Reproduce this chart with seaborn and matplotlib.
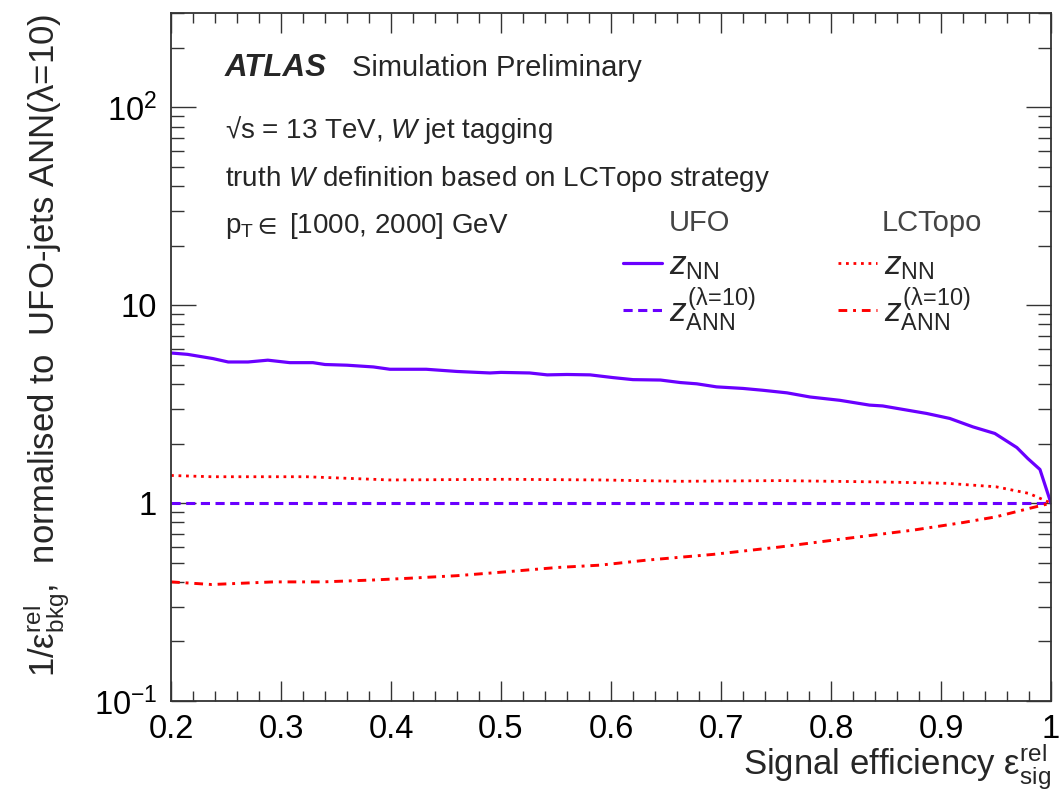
import numpy as np
import pandas as pd
import matplotlib
matplotlib.use("Agg")
import matplotlib.pyplot as plt
import seaborn as sns
from matplotlib.ticker import FixedLocator, MultipleLocator, LogLocator, NullFormatter

# ---------------- data ----------------
ufo_nn_x = [0.20, 0.215, 0.238, 0.252, 0.27, 0.288, 0.308, 0.329, 0.34, 0.36, 0.384, 0.399,
            0.432, 0.46, 0.49, 0.50, 0.526, 0.542, 0.56, 0.581, 0.602, 0.62, 0.645, 0.663,
            0.678, 0.696, 0.72, 0.738, 0.76, 0.781, 0.808, 0.835, 0.847, 0.865, 0.887, 0.908,
            0.929, 0.949, 0.969, 0.979, 0.99, 1.0]
ufo_nn_y = [5.74, 5.65, 5.38, 5.17, 5.17, 5.28, 5.13, 5.13, 5.02, 4.98, 4.88, 4.75,
            4.75, 4.63, 4.55, 4.58, 4.55, 4.45, 4.47, 4.45, 4.31, 4.21, 4.19, 4.07,
            4.01, 3.87, 3.80, 3.72, 3.61, 3.44, 3.31, 3.13, 3.10, 2.98, 2.84, 2.68,
            2.43, 2.25, 1.91, 1.68, 1.48, 1.0]

ufo_ann_x = [0.20, 1.0]
ufo_ann_y = [1.0, 1.0]

lc_nn_x = [0.20, 0.237, 0.323, 0.399, 0.505, 0.59, 0.663, 0.754, 0.845, 0.905, 0.95, 0.98, 1.0]
lc_nn_y = [1.38, 1.36, 1.36, 1.31, 1.32, 1.31, 1.29, 1.30, 1.28, 1.26, 1.21, 1.12, 1.0]

lc_ann_x = [0.20, 0.237, 0.293, 0.338, 0.384, 0.415, 0.46, 0.505, 0.551, 0.59, 0.632, 0.693,
            0.754, 0.814, 0.875, 0.92, 0.95, 0.98, 1.0]
lc_ann_y = [0.40, 0.388, 0.40, 0.40, 0.409, 0.417, 0.43, 0.45, 0.473, 0.486, 0.515, 0.551,
            0.601, 0.663, 0.731, 0.798, 0.853, 0.94, 1.0]

x_ticks = [0.2, 0.3, 0.4, 0.5, 0.6, 0.7, 0.8, 0.9, 1.0]
x_ticklabels = ["0.2", "0.3", "0.4", "0.5", "0.6", "0.7", "0.8", "0.9", "1"]
y_ticks = [0.1, 1, 10, 100]
y_ticklabels = [r"$10^{-1}$", "1", "10", r"$10^{2}$"]

label_nn = r"$z_{\mathrm{NN}}$"
label_ann = r"$z_{\mathrm{ANN}}^{\mathrm{(λ\!=\!10)}}$"
header_ufo = "UFO"
header_lc = "LCTopo"

# ---------------- style ----------------
sns.set_theme(style="ticks")
plt.rcParams["font.family"] = ["Liberation Sans", "DejaVu Sans"]
plt.rcParams["mathtext.fontset"] = "custom"
plt.rcParams["mathtext.rm"] = "Liberation Sans"
plt.rcParams["mathtext.it"] = "Liberation Sans:italic"
plt.rcParams["mathtext.bf"] = "Liberation Sans:bold"
plt.rcParams["mathtext.fallback"] = "stixsans"
plt.rcParams["axes.linewidth"] = 1.3
plt.rcParams["axes.edgecolor"] = "#333333"

BLUE = "#6a00ff"
RED = "#ff0000"

fig = plt.figure(figsize=(10.59, 7.94), dpi=100)
ax = fig.add_axes([0.1615, 0.1171, 0.8309, 0.8665])

def df(x, y):
    return pd.DataFrame({"x": x, "y": y})

sns.lineplot(data=df(ufo_nn_x, ufo_nn_y), x="x", y="y", ax=ax, color=BLUE, lw=2.3,
             label=label_nn, estimator=None, sort=False)
sns.lineplot(data=df(ufo_ann_x, ufo_ann_y), x="x", y="y", ax=ax, color=BLUE, lw=2.2,
             label=label_ann, estimator=None, sort=False)
sns.lineplot(data=df(lc_nn_x, lc_nn_y), x="x", y="y", ax=ax, color=RED, lw=2.0,
             label=label_nn + " ", estimator=None, sort=False)
sns.lineplot(data=df(lc_ann_x, lc_ann_y), x="x", y="y", ax=ax, color=RED, lw=2.1,
             label=label_ann + " ", estimator=None, sort=False)

lines = ax.get_lines()
lines[1].set_dashes((3.0, 1.8))
lines[2].set_dashes((1.0, 1.7))
lines[3].set_dashes((3.0, 2.0, 1.0, 2.0))

ax.set_yscale("log")
ax.set_xlim(0.2, 1.0)
ax.set_ylim(0.1, 300)

ax.xaxis.set_major_locator(FixedLocator(x_ticks))
ax.set_xticklabels(x_ticklabels)
ax.xaxis.set_minor_locator(MultipleLocator(0.02))
ax.yaxis.set_major_locator(FixedLocator(y_ticks))
ax.set_yticklabels(y_ticklabels)
ax.yaxis.set_minor_locator(LogLocator(base=10, subs=np.arange(2, 10), numticks=20))
ax.yaxis.set_minor_formatter(NullFormatter())

ax.tick_params(axis="both", which="both", direction="in", top=True, right=True,
               colors="#333333", labelcolor="black", width=1.0)
ax.tick_params(axis="x", which="major", length=14.5, labelsize=23.5, pad=9)
ax.tick_params(axis="x", which="minor", length=7.2)
ax.tick_params(axis="y", which="major", length=18, labelsize=23.5, pad=10)
ax.tick_params(axis="y", which="minor", length=9.4)

ax.set_xlabel(r"Signal efficiency $\mathrm{ε}^{\mathrm{rel}}_{\mathrm{sig}}$", fontsize=25,
              ha="right")
ax.xaxis.set_label_coords(1.0, -0.059)
ax.set_ylabel(r"$1/\mathrm{ε}^{\mathrm{rel}}_{\mathrm{bkg}}$,  normalised to  UFO-jets ANN(λ=10)",
              fontsize=25)
ax.yaxis.set_label_coords(-0.1125, 0.517)

# ---------------- annotations ----------------
tx = 0.0614
ax.text(tx, 0.909, "ATLAS", transform=ax.transAxes, fontsize=22.5, fontweight="bold",
        fontstyle="italic", va="baseline")
ax.text(0.2057, 0.909, "Simulation Preliminary", transform=ax.transAxes, fontsize=21,
        va="baseline")
ax.text(tx, 0.819, r"√s = 13 TeV, $\mathit{W}$ jet tagging", transform=ax.transAxes,
        fontsize=20, va="baseline")
ax.text(tx, 0.749, r"truth $\mathit{W}$ definition based on LCTopo strategy", transform=ax.transAxes,
        fontsize=20, va="baseline")
ax.text(tx, 0.680, r"p$_{\mathrm{T}}{\in}$ [1000, 2000] GeV", transform=ax.transAxes,
        fontsize=20, va="baseline")

# legend headers
ax.text(0.6, 0.695, header_ufo, transform=ax.transAxes, fontsize=21, color="#444444",
        ha="center", va="center")
ax.text(0.865, 0.695, header_lc, transform=ax.transAxes, fontsize=21, color="#444444",
        ha="center", va="center")

# ---------------- legends ----------------
leg_kw = dict(frameon=False, fontsize=24, handlelength=1.17, handletextpad=0.2,
              labelspacing=0.1, borderaxespad=0, borderpad=0, loc="upper left")
leg1 = ax.legend(handles=[lines[0], lines[1]], labels=[label_nn, label_ann],
                 bbox_to_anchor=(0.5136, 0.654), **leg_kw)
ax.add_artist(leg1)
leg2 = ax.legend(handles=[lines[2], lines[3]], labels=[label_nn, label_ann],
                 bbox_to_anchor=(0.758, 0.654), **leg_kw)

fig.savefig("out.png", dpi=100)
